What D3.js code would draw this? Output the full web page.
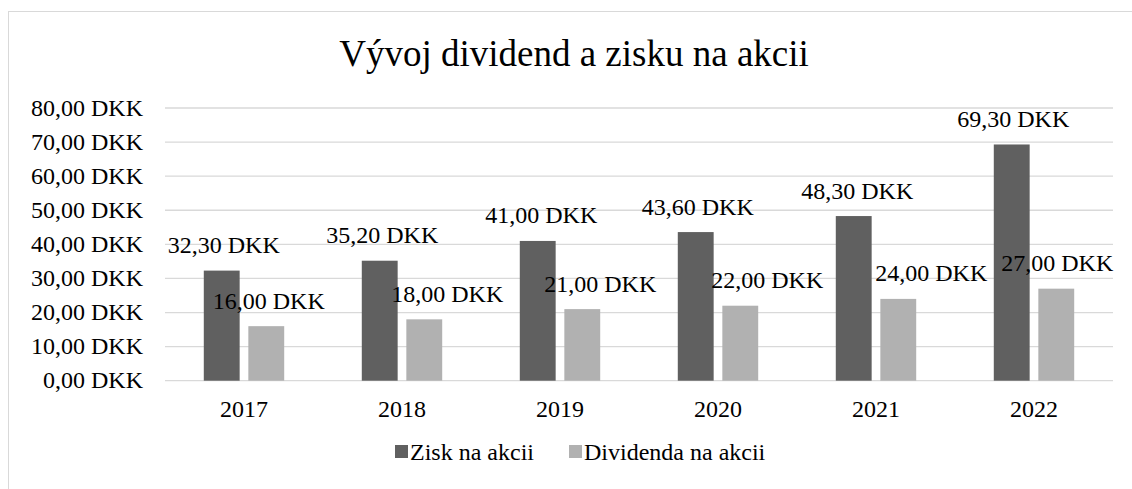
<!DOCTYPE html>
<html>
<head>
<meta charset="utf-8">
<script src="https://cdn.jsdelivr.net/npm/d3@7"></script>
<style>
  body { margin: 0; background: #fff; }
  svg text { font-family: 'Liberation Serif', 'Times New Roman', serif; fill: #000; }
</style>
</head>
<body>
<svg id="chart" width="1132" height="489"></svg>
<script>
const years = ['2017', '2018', '2019', '2020', '2021', '2022'];
const seriesNames = ['Zisk na akcii', 'Dividenda na akcii'];
const zisk = [32.3, 35.2, 41.0, 43.6, 48.3, 69.3];
const dividenda = [16.0, 18.0, 21.0, 22.0, 24.0, 27.0];
const yTicks = [0, 10, 20, 30, 40, 50, 60, 70, 80];

// label nudges (px), the source chart has hand-placed labels
const labelShift = [[2, 2.5], [2.5, 23], [3.5, 18], [2, 27], [3.5, 33], [1.5, 1]];

const colors = ['#606060', '#b1b1b1'];
const fmt = function(v) { return d3.format('.2f')(v).replace('.', ',') + ' DKK'; };

const svg = d3.select('#chart'),
    margin = {top: 108, right: 19, bottom: 108.3, left: 165},
    width = +svg.attr('width') - margin.left - margin.right,
    height = +svg.attr('height') - margin.top - margin.bottom;

// chart border
svg.append('rect')
    .attr('x', 8.5).attr('y', 11.5)
    .attr('width', 1140).attr('height', 500)
    .attr('fill', 'none')
    .attr('stroke', '#d9d9d9')
    .attr('stroke-width', 1);

svg.append('text')
    .attr('x', 574).attr('y', 66)
    .attr('text-anchor', 'middle')
    .style('font-size', '37px')
    .text('Vývoj dividend a zisku na akcii');

const g = svg.append('g')
    .attr('transform', 'translate(' + margin.left + ',' + margin.top + ')');

const x = d3.scaleBand().domain(years).range([0, width]).padding(0);
const x1 = d3.scaleBand().domain([0, 1])
    .range([x.bandwidth() * 0.2455, x.bandwidth() * 0.7545])
    .paddingInner(0.195);
const y = d3.scaleLinear().domain([0, 80]).range([height, 0]);

// gridlines
g.append('g')
  .selectAll('line')
  .data(yTicks)
  .enter().append('line')
    .attr('x1', 0).attr('x2', width)
    .attr('y1', function(d) { return y(d); })
    .attr('y2', function(d) { return y(d); })
    .attr('stroke', '#d9d9d9')
    .attr('stroke-width', 1.3);

// y axis labels
g.append('g')
  .selectAll('text')
  .data(yTicks)
  .enter().append('text')
    .attr('x', -22)
    .attr('y', function(d) { return y(d) + 7.5; })
    .attr('text-anchor', 'end')
    .style('font-size', '24px')
    .text(function(d) { return fmt(d); });

// x axis labels
g.append('g')
  .selectAll('text')
  .data(years)
  .enter().append('text')
    .attr('x', function(d) { return x(d) + x.bandwidth() / 2; })
    .attr('y', height + 36)
    .attr('text-anchor', 'middle')
    .style('font-size', '24px')
    .text(function(d) { return d; });

const rows = years.map(function(yr, i) { return {year: yr, i: i, vals: [zisk[i], dividenda[i]]}; });

const group = g.selectAll('.grp')
  .data(rows)
  .enter().append('g')
    .attr('class', 'grp')
    .attr('transform', function(d) { return 'translate(' + x(d.year) + ',0)'; });

group.selectAll('rect')
  .data(function(d) { return d.vals.map(function(v, s) { return {v: v, s: s, i: d.i}; }); })
  .enter().append('rect')
    .attr('x', function(d) { return x1(d.s); })
    .attr('width', x1.bandwidth())
    .attr('y', function(d) { return y(d.v); })
    .attr('height', function(d) { return height - y(d.v); })
    .attr('fill', function(d) { return colors[d.s]; });

group.selectAll('text')
  .data(function(d) { return d.vals.map(function(v, s) { return {v: v, s: s, i: d.i}; }); })
  .enter().append('text')
    .attr('x', function(d) { return x1(d.s) + x1.bandwidth() / 2 + labelShift[d.i][d.s]; })
    .attr('y', function(d) { return y(d.v) - 17.5; })
    .attr('text-anchor', 'middle')
    .style('font-size', '24px')
    .text(function(d) { return fmt(d.v); });

// legend
const legend = svg.append('g').attr('class', 'legend');
const legendX = [395, 569];
seriesNames.forEach(function(name, s) {
  legend.append('rect')
      .attr('x', legendX[s]).attr('y', 445)
      .attr('width', 13).attr('height', 13)
      .attr('fill', colors[s]);
  legend.append('text')
      .attr('x', legendX[s] + 15).attr('y', 460)
      .style('font-size', '24px')
      .text(name);
});
</script>
</body>
</html>
